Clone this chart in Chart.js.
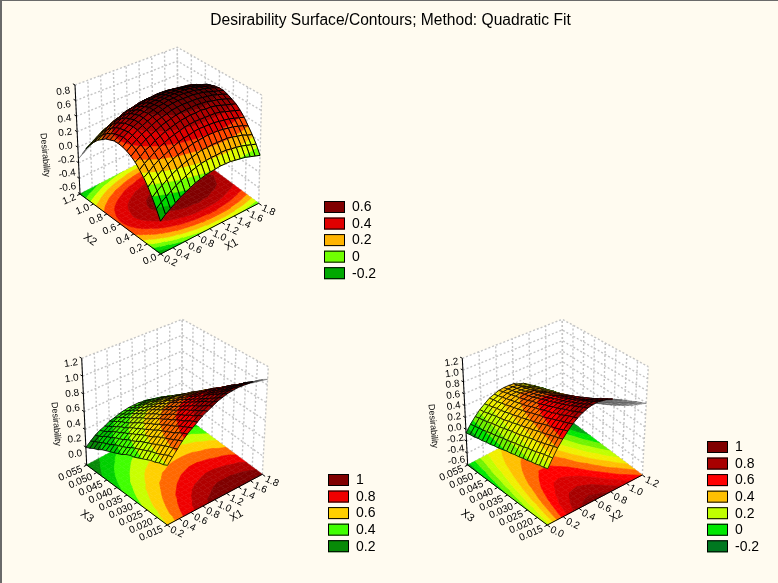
<!DOCTYPE html>
<html>
<head>
<meta charset="utf-8">
<title>Desirability Surface/Contours</title>
<script src="https://cdn.jsdelivr.net/npm/chart.js@4"></script>
<style>
html, body { margin: 0; background: #fffbf0; }
#wrap { position: relative; width: 778px; height: 583px; overflow: hidden; }
#wrap canvas { display: block; }
#frame { position: absolute; left: 0; top: 0; right: 0; bottom: 0; border-top: 1px solid #6a6a6a; border-left: 2px solid #6a6a6a; pointer-events: none; }
</style>
</head>
<body>
<div id="wrap"><canvas id="chart" width="778" height="583"></canvas><div id="frame"></div></div>
<script>
const chartTitle = "Desirability Surface/Contours; Method: Quadratic Fit";

// grid positions along each factor
const x1Grid = [0.2,0.28,0.36,0.44,0.52,0.6,0.68,0.76,0.84,0.92,1,1.08,1.16,1.24,1.32,1.4,1.48,1.56,1.64,1.72,1.8];
const x2Grid = [0,0.06,0.12,0.18,0.24,0.3,0.36,0.42,0.48,0.54,0.6,0.66,0.72,0.78,0.84,0.9,0.96,1.02,1.08,1.14,1.2];
const x3Grid = [0.015,0.017,0.019,0.021,0.023,0.025,0.027,0.029,0.031,0.033,0.035,0.037,0.039,0.041,0.043,0.045,0.047,0.049,0.051,0.053,0.055];

// tick labels
const x1Ticks = [0.2,0.4,0.6,0.8,1.0,1.2,1.4,1.6,1.8];
const x2Ticks = [0,0.2,0.4,0.6,0.8,1.0,1.2];
const x3Ticks = [0.015,0.02,0.025,0.03,0.035,0.04,0.045,0.05,0.055];
const zTicks1 = [-0.6,-0.4,-0.2,0,0.2,0.4,0.6,0.8];
const zTicks2 = [0,0.2,0.4,0.6,0.8,1.0,1.2];
const zTicks3 = [-0.6,-0.4,-0.2,0,0.2,0.4,0.6,0.8,1.0,1.2];

// surface 1: rows run along X2, columns along X1
const zRows1 = [
[-0.22,-0.17,-0.13,-0.09,-0.05,-0.02,0.01,0.04,0.06,0.08,0.09,0.10,0.11,0.11,0.11,0.10,0.09,0.08,0.06,0.04,0.02],
[-0.11,-0.06,-0.02,0.02,0.06,0.09,0.12,0.15,0.17,0.19,0.20,0.21,0.21,0.22,0.22,0.21,0.20,0.19,0.17,0.15,0.13],
[-0.01,0.04,0.08,0.12,0.16,0.19,0.22,0.24,0.26,0.28,0.30,0.30,0.31,0.31,0.31,0.31,0.30,0.28,0.27,0.24,0.22],
[0.08,0.13,0.17,0.21,0.25,0.28,0.31,0.33,0.35,0.37,0.38,0.39,0.40,0.40,0.40,0.39,0.38,0.37,0.35,0.33,0.30],
[0.16,0.20,0.25,0.29,0.32,0.35,0.38,0.41,0.43,0.44,0.46,0.47,0.47,0.47,0.47,0.46,0.45,0.44,0.42,0.40,0.38],
[0.22,0.27,0.31,0.35,0.39,0.42,0.45,0.47,0.49,0.51,0.52,0.53,0.53,0.53,0.53,0.53,0.52,0.50,0.48,0.46,0.44],
[0.28,0.32,0.37,0.40,0.44,0.47,0.50,0.52,0.54,0.56,0.57,0.58,0.58,0.59,0.58,0.58,0.57,0.55,0.53,0.51,0.49],
[0.32,0.37,0.41,0.45,0.48,0.51,0.54,0.56,0.58,0.60,0.61,0.62,0.62,0.63,0.62,0.62,0.60,0.59,0.57,0.55,0.52],
[0.35,0.40,0.44,0.48,0.51,0.54,0.57,0.59,0.61,0.63,0.64,0.65,0.65,0.65,0.65,0.64,0.63,0.62,0.60,0.58,0.55],
[0.37,0.42,0.46,0.50,0.53,0.56,0.59,0.61,0.63,0.65,0.66,0.67,0.67,0.67,0.67,0.66,0.65,0.63,0.61,0.59,0.57],
[0.38,0.43,0.47,0.51,0.54,0.57,0.60,0.62,0.64,0.65,0.67,0.67,0.68,0.68,0.67,0.67,0.65,0.64,0.62,0.60,0.57],
[0.38,0.42,0.46,0.50,0.54,0.57,0.59,0.62,0.63,0.65,0.66,0.67,0.67,0.67,0.67,0.66,0.65,0.63,0.61,0.59,0.56],
[0.36,0.41,0.45,0.49,0.52,0.55,0.58,0.60,0.62,0.63,0.64,0.65,0.65,0.65,0.65,0.64,0.63,0.61,0.59,0.57,0.54],
[0.34,0.38,0.43,0.46,0.50,0.53,0.55,0.57,0.59,0.61,0.62,0.62,0.63,0.63,0.62,0.61,0.60,0.59,0.57,0.54,0.52],
[0.30,0.35,0.39,0.43,0.46,0.49,0.51,0.54,0.55,0.57,0.58,0.59,0.59,0.59,0.58,0.57,0.56,0.55,0.53,0.50,0.47],
[0.26,0.30,0.34,0.38,0.41,0.44,0.47,0.49,0.50,0.52,0.53,0.53,0.54,0.54,0.53,0.52,0.51,0.49,0.47,0.45,0.42],
[0.20,0.24,0.28,0.32,0.35,0.38,0.41,0.43,0.44,0.46,0.47,0.47,0.48,0.47,0.47,0.46,0.45,0.43,0.41,0.39,0.36],
[0.13,0.17,0.21,0.25,0.28,0.31,0.33,0.36,0.37,0.39,0.40,0.40,0.40,0.40,0.40,0.39,0.37,0.36,0.34,0.31,0.28],
[0.05,0.09,0.13,0.17,0.20,0.23,0.25,0.27,0.29,0.30,0.31,0.32,0.32,0.32,0.31,0.30,0.29,0.27,0.25,0.22,0.20],
[-0.05,0,0.03,0.07,0.11,0.13,0.16,0.18,0.19,0.21,0.22,0.22,0.22,0.22,0.22,0.21,0.19,0.18,0.15,0.13,0.10],
[-0.15,-0.11,-0.07,-0.03,0,0.03,0.05,0.07,0.09,0.10,0.11,0.12,0.12,0.11,0.11,0.10,0.08,0.07,0.04,0.02,-0.01]
];

// surface 2: rows run along X3, columns along X1
const zRows2 = [
[0.60,0.66,0.72,0.78,0.83,0.87,0.91,0.95,0.98,1.01,1.04,1.06,1.08,1.09,1.10,1.10,1.10,1.10,1.09,1.08,1.06],
[0.58,0.65,0.70,0.76,0.81,0.85,0.89,0.93,0.96,0.99,1.01,1.03,1.05,1.06,1.07,1.07,1.07,1.06,1.05,1.04,1.02],
[0.57,0.63,0.69,0.74,0.79,0.83,0.87,0.90,0.93,0.96,0.98,1.00,1.02,1.03,1.03,1.04,1.03,1.03,1.02,1.00,0.98],
[0.55,0.61,0.67,0.72,0.76,0.81,0.84,0.88,0.91,0.93,0.96,0.97,0.99,1.00,1.00,1.00,1.00,0.99,0.98,0.96,0.94],
[0.54,0.59,0.65,0.70,0.74,0.78,0.82,0.85,0.88,0.91,0.93,0.94,0.96,0.96,0.97,0.97,0.96,0.95,0.94,0.93,0.90],
[0.52,0.58,0.63,0.68,0.72,0.76,0.80,0.83,0.86,0.88,0.90,0.91,0.93,0.93,0.93,0.93,0.93,0.92,0.90,0.89,0.86],
[0.50,0.56,0.61,0.66,0.70,0.74,0.77,0.80,0.83,0.85,0.87,0.88,0.89,0.90,0.90,0.90,0.89,0.88,0.87,0.85,0.82],
[0.48,0.54,0.59,0.63,0.68,0.71,0.75,0.78,0.80,0.82,0.84,0.85,0.86,0.87,0.87,0.86,0.86,0.84,0.83,0.81,0.78],
[0.46,0.52,0.57,0.61,0.65,0.69,0.72,0.75,0.77,0.79,0.81,0.82,0.83,0.83,0.83,0.83,0.82,0.80,0.79,0.77,0.74],
[0.45,0.50,0.55,0.59,0.63,0.66,0.70,0.72,0.75,0.76,0.78,0.79,0.80,0.80,0.80,0.79,0.78,0.77,0.75,0.72,0.70],
[0.43,0.48,0.52,0.57,0.60,0.64,0.67,0.69,0.72,0.73,0.75,0.76,0.76,0.76,0.76,0.75,0.74,0.73,0.71,0.68,0.66],
[0.40,0.45,0.50,0.54,0.58,0.61,0.64,0.67,0.69,0.70,0.72,0.72,0.73,0.73,0.72,0.72,0.70,0.69,0.67,0.64,0.61],
[0.38,0.43,0.48,0.52,0.55,0.59,0.61,0.64,0.66,0.67,0.68,0.69,0.69,0.69,0.69,0.68,0.66,0.65,0.62,0.60,0.57],
[0.36,0.41,0.45,0.49,0.53,0.56,0.59,0.61,0.63,0.64,0.65,0.66,0.66,0.66,0.65,0.64,0.63,0.61,0.58,0.56,0.52],
[0.34,0.39,0.43,0.47,0.50,0.53,0.56,0.58,0.60,0.61,0.62,0.62,0.62,0.62,0.61,0.60,0.58,0.56,0.54,0.51,0.48],
[0.32,0.36,0.41,0.44,0.47,0.50,0.53,0.55,0.56,0.58,0.58,0.59,0.59,0.58,0.57,0.56,0.54,0.52,0.50,0.47,0.43],
[0.30,0.34,0.38,0.42,0.45,0.47,0.50,0.52,0.53,0.54,0.55,0.55,0.55,0.55,0.53,0.52,0.50,0.48,0.45,0.42,0.39],
[0.27,0.32,0.36,0.39,0.42,0.45,0.47,0.49,0.50,0.51,0.52,0.52,0.51,0.51,0.50,0.48,0.46,0.44,0.41,0.38,0.34],
[0.25,0.29,0.33,0.36,0.39,0.42,0.44,0.45,0.47,0.47,0.48,0.48,0.48,0.47,0.46,0.44,0.42,0.39,0.37,0.33,0.30],
[0.22,0.27,0.30,0.33,0.36,0.39,0.41,0.42,0.43,0.44,0.44,0.44,0.44,0.43,0.41,0.40,0.38,0.35,0.32,0.29,0.25],
[0.20,0.24,0.28,0.31,0.33,0.36,0.37,0.39,0.40,0.41,0.41,0.41,0.40,0.39,0.37,0.36,0.33,0.31,0.28,0.24,0.20]
];

// surface 3: rows run along X3, columns along X2
const zRows3 = [
[0.25,0.38,0.50,0.60,0.69,0.77,0.83,0.88,0.92,0.94,0.95,0.94,0.93,0.90,0.86,0.82,0.78,0.73,0.69,0.64,0.59],
[0.23,0.36,0.48,0.58,0.67,0.74,0.80,0.85,0.89,0.91,0.92,0.90,0.89,0.86,0.82,0.78,0.73,0.68,0.64,0.59,0.54],
[0.22,0.35,0.46,0.56,0.64,0.72,0.78,0.82,0.86,0.87,0.88,0.87,0.85,0.82,0.78,0.73,0.69,0.63,0.59,0.54,0.48],
[0.20,0.33,0.44,0.54,0.62,0.70,0.75,0.79,0.83,0.84,0.85,0.83,0.82,0.78,0.74,0.69,0.64,0.59,0.54,0.49,0.43],
[0.19,0.31,0.42,0.52,0.60,0.67,0.72,0.77,0.80,0.81,0.82,0.80,0.78,0.74,0.70,0.65,0.60,0.54,0.50,0.44,0.38],
[0.17,0.29,0.40,0.50,0.58,0.65,0.70,0.74,0.77,0.78,0.78,0.76,0.75,0.71,0.66,0.61,0.56,0.50,0.45,0.39,0.33],
[0.16,0.28,0.39,0.48,0.56,0.62,0.67,0.71,0.74,0.75,0.75,0.73,0.71,0.67,0.62,0.57,0.52,0.46,0.41,0.35,0.29],
[0.14,0.26,0.37,0.46,0.53,0.60,0.65,0.69,0.72,0.72,0.72,0.70,0.68,0.64,0.58,0.53,0.48,0.42,0.37,0.30,0.24],
[0.13,0.24,0.35,0.44,0.51,0.58,0.63,0.66,0.69,0.70,0.69,0.67,0.65,0.60,0.55,0.50,0.44,0.38,0.32,0.26,0.20],
[0.11,0.23,0.33,0.42,0.49,0.56,0.60,0.64,0.66,0.67,0.66,0.64,0.61,0.57,0.51,0.46,0.40,0.34,0.29,0.22,0.16],
[0.10,0.21,0.31,0.40,0.47,0.54,0.58,0.61,0.64,0.64,0.64,0.61,0.58,0.54,0.48,0.43,0.37,0.30,0.25,0.18,0.12],
[0.08,0.19,0.30,0.38,0.45,0.51,0.56,0.59,0.61,0.61,0.61,0.58,0.55,0.51,0.45,0.39,0.33,0.27,0.21,0.14,0.08],
[0.06,0.18,0.28,0.36,0.43,0.49,0.53,0.57,0.59,0.59,0.58,0.55,0.52,0.48,0.42,0.36,0.30,0.23,0.17,0.11,0.04],
[0.05,0.16,0.26,0.34,0.41,0.47,0.51,0.54,0.56,0.56,0.56,0.53,0.50,0.45,0.39,0.33,0.27,0.20,0.14,0.07,0],
[0.03,0.14,0.24,0.32,0.39,0.45,0.49,0.52,0.54,0.54,0.53,0.50,0.47,0.42,0.36,0.30,0.24,0.17,0.11,0.04,-0.03],
[0.02,0.13,0.23,0.30,0.37,0.43,0.47,0.50,0.52,0.52,0.51,0.47,0.44,0.39,0.33,0.27,0.21,0.14,0.08,0,-0.07],
[0,0.11,0.21,0.29,0.35,0.41,0.45,0.48,0.50,0.49,0.48,0.45,0.42,0.37,0.30,0.24,0.18,0.11,0.05,-0.03,-0.10],
[-0.01,0.09,0.19,0.27,0.34,0.39,0.43,0.46,0.47,0.47,0.46,0.43,0.39,0.34,0.28,0.22,0.15,0.08,0.02,-0.06,-0.13],
[-0.03,0.08,0.17,0.25,0.32,0.37,0.41,0.44,0.45,0.45,0.44,0.40,0.37,0.32,0.25,0.19,0.13,0.05,-0.01,-0.08,-0.16],
[-0.04,0.06,0.16,0.23,0.30,0.36,0.39,0.42,0.43,0.43,0.42,0.38,0.35,0.29,0.23,0.17,0.10,0.03,-0.04,-0.11,-0.18],
[-0.06,0.05,0.14,0.22,0.28,0.34,0.37,0.40,0.41,0.41,0.40,0.36,0.33,0.27,0.21,0.14,0.08,0,-0.06,-0.14,-0.21]
];

// contour levels and their colours
const levels1 = [-0.2,-0.1,0,0.1,0.2,0.3,0.4,0.5,0.6];
const colors1 = ["#00a800","#00d800","#70ff00","#e0ff00","#ffb400","#ff4800","#e00000","#b00000","#800000"];
const levels2 = [0.2,0.3,0.4,0.5,0.6,0.7,0.8,0.9,1.0];
const colors2 = ["#088a08","#00d000","#40ff00","#c8ff00","#ffd000","#ff6800","#f00000","#b00000","#800000"];
const levels3 = [-0.2,-0.1,0,0.1,0.2,0.3,0.4,0.5,0.6,0.7,0.8,0.9,1.0];
const colors3 = ["#007820","#00a810","#00e800","#70f400","#c0ff00","#f0f000","#ffc000","#ff6800","#ff0000","#d80000","#a80000","#880000","#800000"];

// legend entries
const legend1 = [0.6,0.4,0.2,0,-0.2];
const legendColors1 = ["#800000","#e00000","#ffb400","#70ff00","#00a800"];
const legend2 = [1,0.8,0.6,0.4,0.2];
const legendColors2 = ["#800000","#f00000","#ffd000","#40ff00","#088a08"];
const legend3 = [1,0.8,0.6,0.4,0.2,0,-0.2];
const legendColors3 = ["#800000","#a80000","#ff0000","#ffc000","#c0ff00","#00e800","#007820"];

const panels = [
  {
    zRows: zRows1, uGrid: x1Grid, vGrid: x2Grid, uTicks: x1Ticks, vTicks: x2Ticks, zTicks: zTicks1,
    uName: "X1", vName: "X2", vDigits: 1, levels: levels1, colors: colors1,
    legend: legend1, legendColors: legendColors1, legendAt: [324, 201],
    floor: { F: [160.7,254], R: [258.7,203.3], L: [80,194], B: [178,143.3] },
    top: { F: [160,133], R: [261.7,95], L: [75,85], B: [177.3,47.3] },
    zLabel: { off: 0.06, span: 0.88, dx: -12 }, yTitle: [45,155], vLabelU: -0.11, vTitleU: -0.31,
    shadeBase: 0.8, meshWidth: 1
  },
  {
    zRows: zRows2, uGrid: x1Grid, vGrid: x3Grid, uTicks: x1Ticks, vTicks: x3Ticks, zTicks: zTicks2,
    uName: "X1", vName: "X3", vDigits: 3, levels: levels2, colors: colors2,
    legend: legend2, legendColors: legendColors2, legendAt: [328, 474],
    floor: { F: [167.3,525], R: [262.3,474.3], L: [86.7,465], B: [181.7,414.3] },
    top: { F: [167.7,405.7], R: [268.3,366.7], L: [81.7,358.3], B: [182.3,319.3] },
    zLabel: { off: 0.10, span: 0.853, dx: -11 }, yTitle: [56,424], vLabelU: -0.17, vTitleU: -0.42,
    shadeBase: 1, meshWidth: 0.8
  },
  {
    zRows: zRows3, uGrid: x2Grid, vGrid: x3Grid, uTicks: x2Ticks, vTicks: x3Ticks, zTicks: zTicks3,
    uName: "X2", vName: "X3", vDigits: 3, levels: levels3, colors: colors3,
    legend: legend3, legendColors: legendColors3, legendAt: [707, 441],
    floor: { F: [547.3,525], R: [642.3,475], L: [467.7,465], B: [562.7,415] },
    top: { F: [548.3,405.7], R: [648.3,366.7], L: [462.3,358.3], B: [562.3,319.3] },
    zLabel: { off: 0.04, span: 0.92, dx: -11 }, yTitle: [433,426], vLabelU: -0.17, vTitleU: -0.42,
    shadeBase: 1, meshWidth: 0.8
  }
];

function lerp(a, b, t) { return a + (b - a) * t; }

// box coordinates (u, v along the floor, w up) to page position
function project(p, u, v, w) {
  const corner = (c, k) => lerp(lerp(c.F[k], c.R[k], u), lerp(c.L[k], c.B[k], u), v);
  return {
    x: lerp(corner(p.floor, 0), corner(p.top, 0), w),
    y: lerp(corner(p.floor, 1), corner(p.top, 1), w)
  };
}

function norm(ticks, val) {
  const lo = ticks[0], hi = ticks[ticks.length - 1];
  return (val - lo) / (hi - lo);
}

function closed(pts) { return pts.concat([pts[0]]); }

function shade(hex, f) {
  const n = parseInt(hex.slice(1), 16);
  return "rgb(" + Math.round((n >> 16) * f) + "," + Math.round(((n >> 8) & 255) * f) + "," + Math.round((n & 255) * f) + ")";
}

const datasets = [];
function addLine(pts, color, width, dash) {
  datasets.push({ data: pts, showLine: true, fill: false, borderColor: color, borderWidth: width, borderDash: dash || [] });
}
function addShape(pts, fillColor, lineColor, width) {
  datasets.push({ data: closed(pts), showLine: true, fill: "shape", backgroundColor: fillColor, borderColor: lineColor, borderWidth: width });
}

function clipLevel(poly, level, above) {
  const out = [];
  poly.forEach((a, i) => {
    const b = poly[(i + 1) % poly.length];
    const aIn = above ? a.z >= level : a.z < level;
    const bIn = above ? b.z >= level : b.z < level;
    if (aIn) out.push(a);
    if (aIn !== bIn) {
      const t = (level - a.z) / (b.z - a.z);
      out.push({ u: lerp(a.u, b.u, t), v: lerp(a.v, b.v, t), z: level });
    }
  });
  return out;
}

function splitBands(poly, levels) {
  const parts = [];
  levels.forEach((lev, i) => {
    let part = poly;
    if (i > 0) part = clipLevel(part, lev, true);
    if (i < levels.length - 1 && part.length) part = clipLevel(part, levels[i + 1], false);
    if (part.length > 2) parts.push({ band: i, poly: part });
  });
  return parts;
}

function drawBox(p) {
  const zt = p.zTicks.map(t => norm(p.zTicks, t));
  const ut = p.uTicks.map(t => norm(p.uTicks, t));
  const vt = p.vTicks.map(t => norm(p.vTicks, t));
  const grid = "#c4c4c4", dots = [2, 2];
  addShape([project(p,0,1,0), project(p,1,1,0), project(p,1,1,1), project(p,0,1,1)], "#ffffff", "#ffffff", 0);
  addShape([project(p,1,1,0), project(p,1,0,0), project(p,1,0,1), project(p,1,1,1)], "#ffffff", "#ffffff", 0);
  zt.forEach(w => {
    addLine([project(p,0,1,w), project(p,1,1,w), project(p,1,0,w)], grid, 1.4, dots);
  });
  ut.forEach(u => addLine([project(p,u,1,0), project(p,u,1,1)], grid, 1.4, dots));
  vt.forEach(v => addLine([project(p,1,v,0), project(p,1,v,1)], grid, 1.4, dots));
}

function drawFloor(p) {
  const n = p.uGrid.length, m = p.vGrid.length;
  for (let j = m - 2; j >= 0; j--) {
    for (let i = n - 2; i >= 0; i--) {
      splitBands(cellPoly(p, i, j), p.levels).forEach(part => {
        const c = p.colors[part.band];
        addShape(part.poly.map(a => project(p, a.u, a.v, 0)), c, c, 0.6);
      });
    }
  }
  addLine([project(p,0,1,0), project(p,0,0,0), project(p,1,0,0)], "#000000", 1);
  addLine([project(p,0,1,0), project(p,0,1,1)], "#000000", 1);
  p.uTicks.forEach(t => {
    const u = norm(p.uTicks, t);
    addLine([project(p,u,0,0), project(p,u,-0.035,0)], "#000000", 1);
  });
  p.vTicks.forEach(t => {
    const v = norm(p.vTicks, t);
    addLine([project(p,0,v,0), project(p,-0.03,v,0)], "#000000", 1);
  });
  p.zTicks.forEach(t => {
    const w = norm(p.zTicks, t);
    addLine([project(p,0,1,w), project(p,0,1.025,w)], "#000000", 1);
  });
}

function cellPoly(p, i, j) {
  const corner = (a, b) => ({ u: norm(p.uTicks, p.uGrid[a]), v: norm(p.vTicks, p.vGrid[b]), z: p.zRows[b][a] });
  return [corner(i, j), corner(i + 1, j), corner(i + 1, j + 1), corner(i, j + 1)];
}

function crossOf(q) {
  return (q[2].x - q[0].x) * (q[3].y - q[1].y) - (q[2].y - q[0].y) * (q[3].x - q[1].x);
}

function drawSurface(p) {
  const n = p.uGrid.length, m = p.vGrid.length;
  const toPage = a => project(p, a.u, a.v, norm(p.zTicks, a.z));
  for (let j = m - 2; j >= 0; j--) {
    for (let i = n - 2; i >= 0; i--) {
      const cell = cellPoly(p, i, j);
      const q = cell.map(toPage);
      const cross = crossOf(q);
      // the underside of the sheet shows grey, its lines thin so the narrow cells stay readable
      if (cross > 0) { addShape(q, "#c0c0c0", "#4a4a4a", 0.4); continue; }
      // cells tipped towards the viewer read brighter than flat ones
      const flat = crossOf(cell.map(a => project(p, a.u, a.v, 0)));
      const f = Math.min(1, Math.max(p.shadeBase - 0.05, p.shadeBase + 0.3 * (cross / flat - 1)));
      const parts = splitBands(cell, p.levels);
      if (parts.length === 1) {
        addShape(q, shade(p.colors[parts[0].band], f), "#000000", p.meshWidth);
      } else {
        parts.forEach(part => {
          const c = shade(p.colors[part.band], f);
          addShape(part.poly.map(toPage), c, c, 0.5);
        });
        addLine(closed(q), "#000000", p.meshWidth);
      }
    }
  }
}

panels.forEach(p => { drawBox(p); drawFloor(p); drawSurface(p); });
// chart.js paints the first dataset last
datasets.reverse();

function putText(ctx, text, x, y, deg, font) {
  ctx.save();
  ctx.translate(x, y);
  ctx.rotate(deg * Math.PI / 180);
  ctx.font = font;
  ctx.textAlign = "center";
  ctx.textBaseline = "middle";
  ctx.fillStyle = "#000000";
  ctx.fillText(text, 0, 0);
  ctx.restore();
}

const labelFont = "10px 'Liberation Sans', Arial, sans-serif";

const textPlugin = {
  id: "panelText",
  afterDraw(chart) {
    const ctx = chart.ctx;
    putText(ctx, chartTitle, 390.5, 21, 0, "15.6px 'Liberation Sans', Arial, sans-serif");
    panels.forEach(p => {
      p.uTicks.forEach(t => {
        const at = project(p, norm(p.uTicks, t), -0.12, 0);
        putText(ctx, t.toFixed(1), at.x, at.y, 25, labelFont);
      });
      p.vTicks.forEach(t => {
        const at = project(p, p.vLabelU, norm(p.vTicks, t), 0);
        putText(ctx, t.toFixed(p.vDigits), at.x, at.y, -23, labelFont);
      });
      p.zTicks.forEach(t => {
        const w = p.zLabel.off + p.zLabel.span * norm(p.zTicks, t);
        const at = project(p, 0, 1, w);
        putText(ctx, t.toFixed(1), at.x + p.zLabel.dx, at.y, -8, labelFont);
      });
      const uTitle = project(p, 0.5, -0.27, 0);
      putText(ctx, p.uName, uTitle.x, uTitle.y, -30, "11px 'Liberation Sans', Arial, sans-serif");
      const vTitle = project(p, p.vTitleU, 0.5, 0);
      putText(ctx, p.vName, vTitle.x, vTitle.y, 35, "11px 'Liberation Sans', Arial, sans-serif");
      putText(ctx, "Desirability", p.yTitle[0], p.yTitle[1], 85, "9px 'Liberation Sans', Arial, sans-serif");

      p.legend.forEach((val, i) => {
        const x = p.legendAt[0], y = p.legendAt[1] + i * 16.55;
        ctx.fillStyle = p.legendColors[i];
        ctx.strokeStyle = "#000000";
        ctx.lineWidth = 1;
        ctx.fillRect(x, y, 21, 12);
        ctx.strokeRect(x + 0.5, y + 0.5, 20, 11);
        ctx.font = "14px 'Liberation Sans', Arial, sans-serif";
        ctx.textAlign = "left";
        ctx.textBaseline = "middle";
        ctx.fillStyle = "#000000";
        ctx.fillText(String(val), x + 28, y + 6.5);
      });
    });
  }
};

new Chart(document.getElementById("chart"), {
  type: "scatter",
  data: { datasets: datasets },
  options: {
    responsive: false,
    animation: false,
    events: [],
    clip: false,
    layout: { padding: 0 },
    elements: { point: { radius: 0, hoverRadius: 0 }, line: { tension: 0 } },
    scales: {
      x: { type: "linear", min: 0, max: 778, display: false },
      y: { type: "linear", min: 0, max: 583, reverse: true, display: false }
    },
    plugins: { legend: { display: false }, title: { display: false }, tooltip: { enabled: false } }
  },
  plugins: [textPlugin]
});
</script>
</body>
</html>
